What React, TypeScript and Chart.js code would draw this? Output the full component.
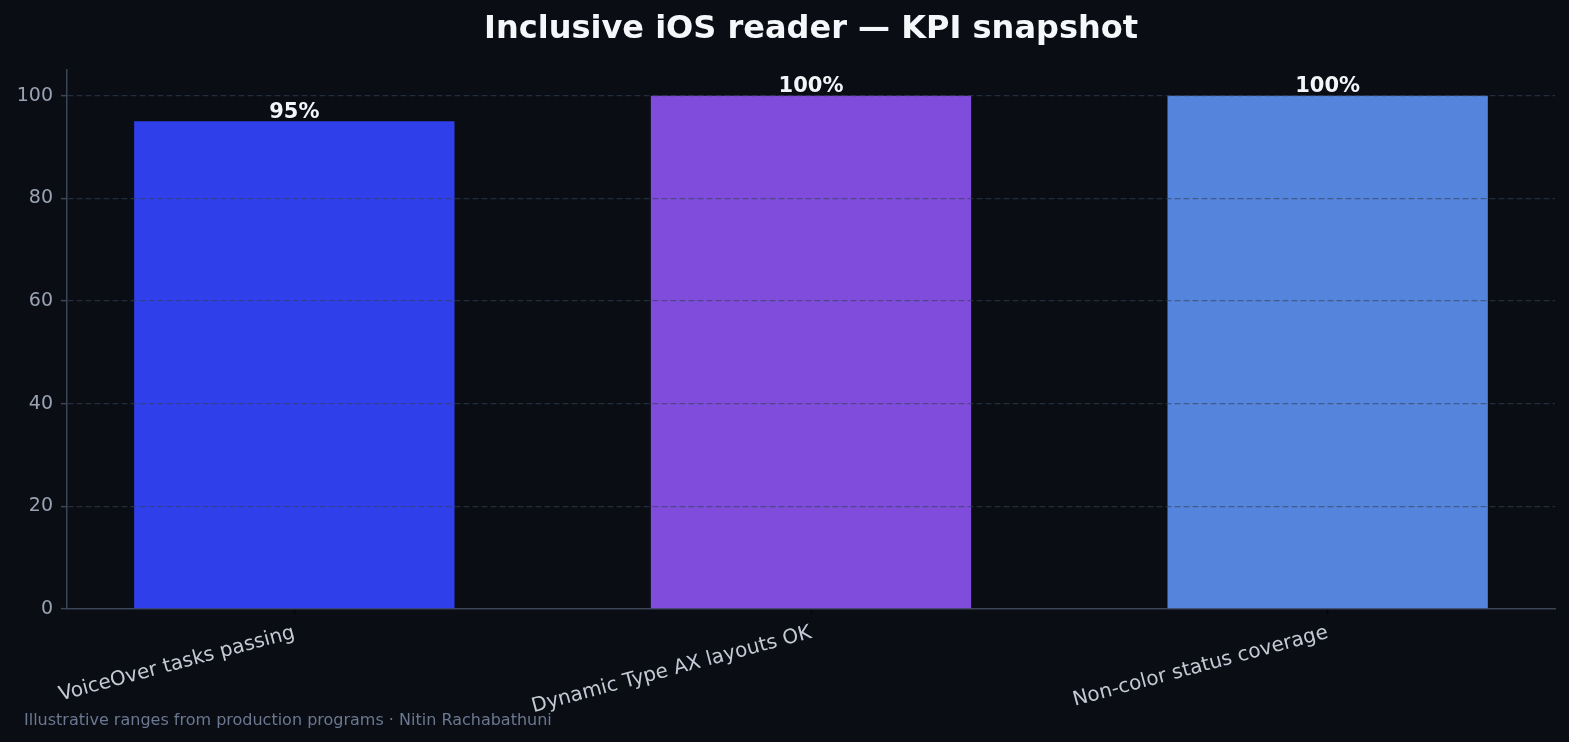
import { useEffect, useRef } from "react";
import { Chart, registerables } from "chart.js";

Chart.register(...registerables);

const categories = ["VoiceOver tasks passing", "Dynamic Type AX layouts OK", "Non-color status coverage"];
const values = [95, 100, 100];
const barColors = ["#2f40eb", "#7f4cdc", "#5584dd"];
const yTicks = [0, 20, 40, 60, 80, 100];
const titleText = "Inclusive iOS reader — KPI snapshot";
const footerText = "Illustrative ranges from production programs · Nitin Rachabathuni";

const BG = "#0a0d14";
const SPINE = "#3b4556";
const GRID = "rgba(51,65,85,0.6)";
const FONT = "'DejaVu Sans', sans-serif";

const decorPlugin = {
  id: "decor",
  beforeDraw(chart: any) {
    const { ctx, width, height } = chart;
    ctx.save();
    ctx.fillStyle = BG;
    ctx.fillRect(0, 0, width, height);
    ctx.restore();
  },
  afterDraw(chart: any) {
    const { ctx, chartArea } = chart;
    ctx.save();
    const meta = chart.getDatasetMeta(0);
    ctx.fillStyle = "#f3f5f8";
    ctx.font = `bold 21px ${FONT}`;
    ctx.textAlign = "center";
    ctx.textBaseline = "alphabetic";
    meta.data.forEach((el: any, i: number) => {
      ctx.fillText(`${values[i]}%`, el.x, el.y - 3.5);
    });
    ctx.font = `bold 32px ${FONT}`;
    ctx.fillStyle = "#f5f7fa";
    ctx.fillText(titleText, (chartArea.left + chartArea.right) / 2, 38);
    ctx.font = `16px ${FONT}`;
    ctx.fillStyle = "#6b7890";
    ctx.textAlign = "left";
    ctx.fillText(footerText, 24, 725);
    ctx.restore();
  },
};

export default function App() {
  const ref = useRef<HTMLCanvasElement>(null);

  useEffect(() => {
    document.body.style.margin = "0";
    document.body.style.background = BG;
    const chart = new Chart(ref.current!, {
      type: "bar",
      data: {
        datasets: [
          {
            data: values.map((v, i) => ({ x: i, y: v })),
            backgroundColor: barColors,
            borderWidth: 0,
            categoryPercentage: 0.62,
            barPercentage: 1,
          },
        ],
      },
      options: {
        animation: false,
        responsive: true,
        maintainAspectRatio: false,
        layout: { padding: { top: 70, right: 14, left: 0, bottom: 0 } },
        plugins: {
          legend: { display: false },
          title: { display: false },
          tooltip: { enabled: false },
        },
        scales: {
          x: {
            type: "linear",
            min: -0.44,
            max: 2.44,
            offset: false,
            afterBuildTicks: (s: any) => {
              s.ticks = categories.map((_, i) => ({ value: i }));
            },
            afterFit: (s: any) => {
              s.height = 133;
            },
            ticks: {
              callback: (v: any) => categories[v as number] ?? "",
              color: "#c3cad5",
              font: { family: FONT, size: 20 },
              minRotation: 15,
              maxRotation: 15,
              padding: 7,
              autoSkip: false,
            },
            grid: {
              offset: false,
              drawOnChartArea: false,
              drawTicks: true,
              tickLength: 5,
              tickColor: "#03050a",
              tickWidth: 1.5,
            },
            border: { display: true, color: SPINE, width: 1.5 },
          },
          y: {
            min: 0,
            max: 105,
            afterBuildTicks: (s: any) => {
              s.ticks = yTicks.map((v) => ({ value: v }));
            },
            afterFit: (s: any) => {
              s.width = 67;
            },
            ticks: {
              color: "#9aa3b3",
              font: { family: FONT, size: 19 },
              padding: 8,
            },
            grid: {
              z: 1,
              color: (c: any) => (c.tick && c.tick.value === 0 ? "rgba(0,0,0,0)" : GRID),
              lineWidth: 1.3,
              tickBorderDash: [],
              tickColor: SPINE,
              tickLength: 6,
              tickWidth: 1.5,
            },
            border: { display: true, z: 2, color: SPINE, width: 1.5, dash: [6, 3] },
          },
        },
      },
      plugins: [decorPlugin],
    } as any);
    return () => chart.destroy();
  }, []);

  return (
    <div style={{ position: "relative", width: 1569, height: 742, background: BG }}>
      <canvas ref={ref} />
    </div>
  );
}
